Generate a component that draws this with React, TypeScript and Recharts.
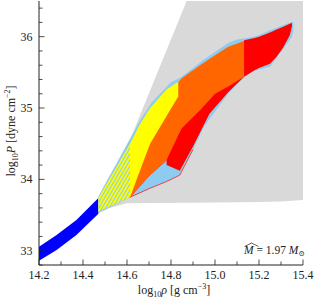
import React from "react";
import { ComposedChart, Area, XAxis, YAxis } from "recharts";

// axis ticks
const xTicks = [14.2, 14.3, 14.4, 14.5, 14.6, 14.7, 14.8, 14.9, 15.0, 15.1, 15.2, 15.3, 15.4];
const xMajor = [14.2, 14.4, 14.6, 14.8, 15.0, 15.2, 15.4];
const yTicks = [32.8, 33.0, 33.2, 33.4, 33.6, 33.8, 34.0, 34.2, 34.4, 34.6, 34.8, 35.0, 35.2, 35.4, 35.6, 35.8, 36.0, 36.2, 36.4];
const yMajor = [33, 34, 35, 36];

// grey allowed region
const greyX = [14.47, 14.52, 14.6, 14.871, 15.0, 15.2, 15.3, 15.4];
const greyLo = [33.53, 33.6, 33.665, 33.674, 33.676, 33.682, 33.69, 33.71];
const greyHi = [33.76, 34.04, 34.45, 36.5, 36.5, 36.5, 36.5, 36.5];

// blue crust band
const blueX = [14.2, 14.28, 14.37, 14.47];
const blueLo = [32.86, 33.01, 33.22, 33.52];
const blueHi = [33.055, 33.22, 33.43, 33.74];

// light blue envelope
const envX = [14.47, 14.61, 14.66, 14.71, 14.8, 14.84, 14.9, 14.95, 15.06, 15.1, 15.16, 15.2, 15.25, 15.35, 15.356];
const envLo = [33.53, 33.74, 33.81, 33.88, 34.0, 34.06, 34.42, 34.74, 35.2, 35.33, 35.5, 35.54, 35.58, 36.0, 36.1];
const envHi = [33.76, 34.55, 34.83, 35.07, 35.36, 35.42, 35.56, 35.68, 35.91, 35.96, 35.99, 36.02, 36.09, 36.21, 36.2];

// fan below the orange body
const fanX = [14.614, 14.7, 14.78, 14.84, 14.9];
const fanLo = [33.75, 33.87, 33.97, 34.06, 34.42];
const fanHi = [33.75, 34.05, 34.27, 34.66, 34.87];

// red streaks along lower edge
const redLowX = [14.78, 14.84, 14.9, 14.975, 15.06, 15.132];
const redLowLo = [34.2, 34.12, 34.46, 34.92, 35.22, 35.44];
const redLowHi = [34.3, 34.72, 34.92, 35.15, 35.33, 35.46];

// orange body
const orangeX = [14.614, 14.7, 14.78, 14.833, 14.85, 14.932, 15.0, 15.06, 15.132];
const orangeLo = [33.75, 34.05, 34.27, 34.62, 34.72, 34.97, 35.2, 35.3, 35.44];
const orangeHi = [34.47, 34.94, 35.22, 35.36, 35.42, 35.6, 35.74, 35.86, 35.94];

// red upper-right part
const redTopX = [15.132, 15.18, 15.2, 15.25, 15.28, 15.31, 15.34, 15.35];
const redTopLo = [35.44, 35.53, 35.56, 35.62, 35.72, 35.85, 36.02, 36.15];
const redTopHi = [35.95, 35.98, 36.0, 36.06, 36.1, 36.14, 36.18, 36.19];

// yellow part
const yellowX = [14.47, 14.614, 14.66, 14.705, 14.78, 14.833];
const yellowLo = [33.55, 33.75, 34.13, 34.5, 34.89, 35.16];
const yellowHi = [33.74, 34.5, 34.78, 35.0, 35.26, 35.37];

const hatchX = [14.47, 14.614];
const hatchLo = [33.55, 33.75];
const hatchHi = [33.74, 34.5];

const FONT = "'Liberation Serif', 'DejaVu Serif', serif";

const region = (xs: number[], lo: number[], hi: number[]) =>
  xs.map((x, i) => ({ x, lo: lo[i], hi: hi[i] }));
const range = (d: any) => [d.lo, d.hi];

const isMajor = (v: number, majors: number[]) => majors.some((m) => Math.abs(m - v) < 1e-6);

function XTick(props: any) {
  const { x, y, payload, side } = props;
  const major = isMajor(payload.value, xMajor);
  const len = major ? 5.5 : 3.5;
  const d = side === "bottom" ? -1 : 1;
  return (
    <g>
      <line x1={x} y1={y} x2={x} y2={y + d * len} stroke="#222" strokeWidth={0.8} />
      {side === "bottom" && major && (
        <text x={x} y={y + 14} textAnchor="middle" fontSize={12} fontFamily={FONT} fill="#222">
          {payload.value.toFixed(1)}
        </text>
      )}
    </g>
  );
}

function YTick(props: any) {
  const { x, y, payload, side } = props;
  const major = isMajor(payload.value, yMajor);
  const len = major ? 5.5 : 3.5;
  const d = side === "left" ? 1 : -1;
  return (
    <g>
      <line x1={x} y1={y} x2={x + d * len} y2={y} stroke="#222" strokeWidth={0.8} />
      {side === "left" && major && (
        <text x={x - 6.5} y={y + 4} textAnchor="end" fontSize={12} fontFamily={FONT} fill="#222">
          {Math.round(payload.value)}
        </text>
      )}
    </g>
  );
}

const areaProps = {
  type: "linear" as const,
  fillOpacity: 1,
  stroke: "none",
  dot: false,
  activeDot: false,
  isAnimationActive: false,
};

export default function App() {
  return (
    <div style={{ position: "relative", width: 314, height: 301 }}>
      <style>{"body{margin:0}"}</style>
      <ComposedChart width={314} height={301} margin={{ top: 1, right: 11, bottom: 0, left: 0 }}>
        <XAxis
          dataKey="x"
          type="number"
          domain={[14.2, 15.4]}
          ticks={xTicks}
          interval={0}
          allowDataOverflow
          height={36}
          tickSize={0}
          tickMargin={0}
          tickLine={false}
          axisLine={{ stroke: "#222" }}
          tick={(p: any) => <XTick {...p} side="bottom" />}
        />
        <XAxis
          xAxisId="top"
          orientation="top"
          type="number"
          domain={[14.2, 15.4]}
          ticks={xTicks}
          interval={0}
          allowDataOverflow
          height={0}
          tickSize={0}
          tickMargin={0}
          tickLine={false}
          axisLine={{ stroke: "#222" }}
          tick={(p: any) => <XTick {...p} side="top" />}
        />
        <YAxis
          type="number"
          domain={[32.8, 36.5]}
          ticks={yTicks}
          interval={0}
          allowDataOverflow
          width={39}
          tickSize={0}
          tickMargin={0}
          tickLine={false}
          axisLine={{ stroke: "#222" }}
          tick={(p: any) => <YTick {...p} side="left" />}
        />
        <YAxis
          yAxisId="right"
          orientation="right"
          type="number"
          domain={[32.8, 36.5]}
          ticks={yTicks}
          interval={0}
          allowDataOverflow
          width={0}
          tickSize={0}
          tickMargin={0}
          tickLine={false}
          axisLine={{ stroke: "#222" }}
          tick={(p: any) => <YTick {...p} side="right" />}
        />
        <Area {...areaProps} data={region(greyX, greyLo, greyHi)} dataKey={range} fill="#d9d9d9" />
        <Area {...areaProps} data={region(blueX, blueLo, blueHi)} dataKey={range} fill="#0000ff" />
        <Area {...areaProps} data={region(envX, envLo, envHi)} dataKey={range} fill="#8ecbf0" />
        <Area
          {...areaProps}
          data={region(fanX, fanLo, fanHi)}
          dataKey={range}
          fill="#8ecbf0"
          stroke="#ff2020"
          strokeWidth={0.8}
        />
        <Area {...areaProps} data={region(redLowX, redLowLo, redLowHi)} dataKey={range} fill="#ff0000" />
        <Area {...areaProps} data={region(orangeX, orangeLo, orangeHi)} dataKey={range} fill="#ff6600" />
        <Area {...areaProps} data={region(redTopX, redTopLo, redTopHi)} dataKey={range} fill="#ff0000" />
        <Area {...areaProps} data={region(yellowX, yellowLo, yellowHi)} dataKey={range} fill="#ffff00" />
        <Area {...areaProps} data={region(hatchX, hatchLo, hatchHi)} dataKey={range} fill="url(#hatch)" />
      </ComposedChart>
      <svg
        width={314}
        height={301}
        style={{ position: "absolute", left: 0, top: 0, pointerEvents: "none" }}
        fontFamily={FONT}
        fill="#222"
      >
        <defs>
          <pattern id="hatch" patternUnits="userSpaceOnUse" width="3" height="3" patternTransform="rotate(30)">
            <rect width="1.1" height="3" fill="#8ecbf0" />
          </pattern>
        </defs>
        <text x={174} y={294} textAnchor="middle" fontSize={12}>
          log<tspan fontSize={8} dy={3}>10</tspan>
          <tspan dy={-3} fontStyle="italic">ρ</tspan> [g cm
          <tspan fontSize={8} dy={-5}>−3</tspan>
          <tspan dy={5}>]</tspan>
        </text>
        <text transform="translate(15,131) rotate(-90)" textAnchor="middle" fontSize={12}>
          log<tspan fontSize={8} dy={3}>10</tspan>
          <tspan dy={-3} fontStyle="italic">P</tspan> [dyne cm
          <tspan fontSize={8} dy={-5}>−2</tspan>
          <tspan dy={5}>]</tspan>
        </text>
        <path d="M244.5,246.5 L251.5,243 L258.5,246.5" fill="none" stroke="#222" strokeWidth={0.7} />
        <text x={244} y={254} fontSize={11.5}>
          <tspan fontStyle="italic">M</tspan> = 1.97 <tspan fontStyle="italic">M</tspan>
          <tspan fontSize={7.5} dy={2}>⊙</tspan>
        </text>
      </svg>
    </div>
  );
}
